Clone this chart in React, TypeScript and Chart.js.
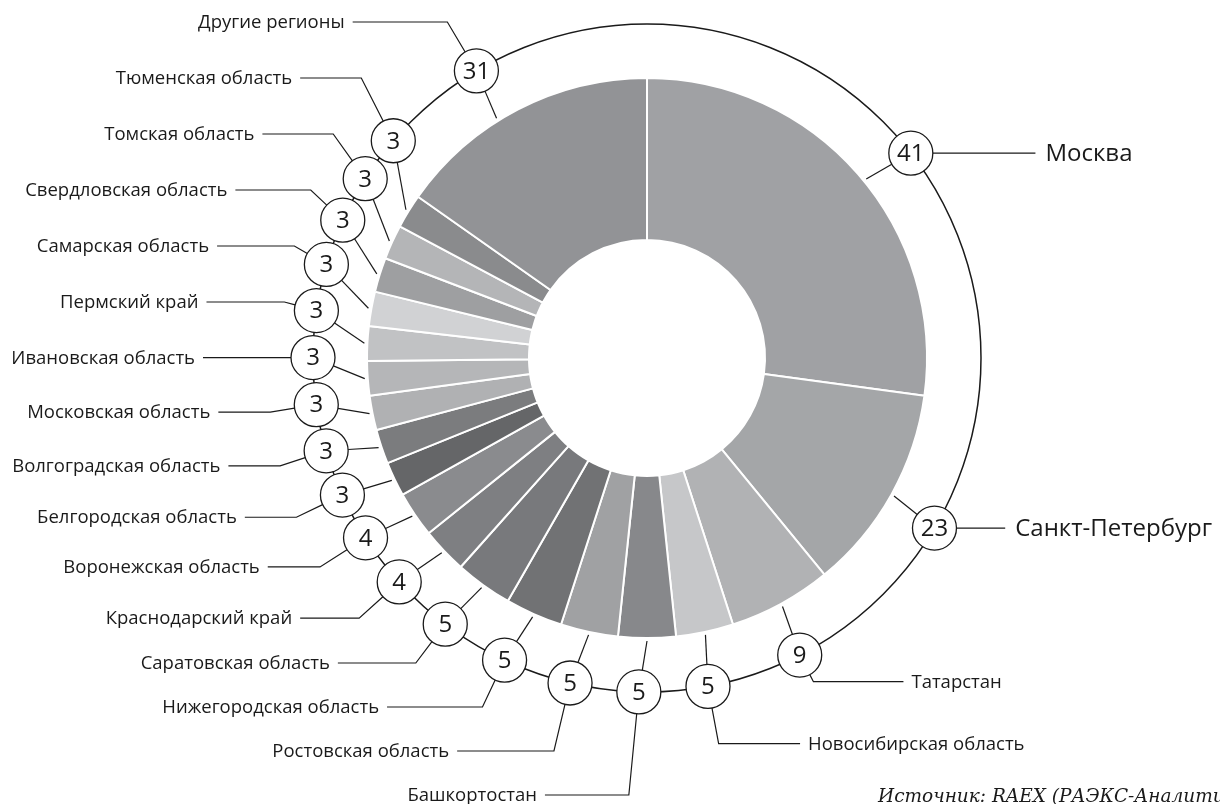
import React, { useEffect, useRef } from 'react';
import { Chart, registerables } from 'chart.js';

Chart.register(...registerables);

// ---------- data ----------
const REGIONS = [
  'Москва',
  'Санкт-Петербург',
  'Татарстан',
  'Новосибирская область',
  'Башкортостан',
  'Ростовская область',
  'Нижегородская область',
  'Саратовская область',
  'Краснодарский край',
  'Воронежская область',
  'Белгородская область',
  'Волгоградская область',
  'Московская область',
  'Ивановская область',
  'Пермский край',
  'Самарская область',
  'Свердловская область',
  'Томская область',
  'Тюменская область',
  'Другие регионы',
];

// numbers printed in the badges
const COUNTS = [41, 23, 9, 5, 5, 5, 5, 5, 4, 4, 3, 3, 3, 3, 3, 3, 3, 3, 3, 31];

// relative slice sizes as drawn in the picture
const SLICE_SHARES = [41, 18, 9, 5, 5, 5, 5, 5, 4, 4, 3, 3, 3, 3, 3, 3, 3, 3, 3, 23];

const SOURCE_NOTE = 'Источник: RAEX (РАЭКС-Аналитика)';

// ---------- styles ----------
const SLICE_COLORS = [
  '#a0a1a4', '#a4a6a8', '#b1b2b4', '#c6c7c9', '#87888b',
  '#a0a1a3', '#717274', '#78797c', '#7e7f82', '#8a8b8e',
  '#656668', '#7b7c7e', '#b0b1b3', '#b5b6b8', '#c1c2c4',
  '#d1d2d4', '#9e9fa1', '#b4b5b7', '#8a8b8d', '#929396',
];

const FONT = '"Open Sans", "DejaVu Sans", sans-serif';
const INK = '#1a1a1a';
const FEATURED = 2; // first two categories get large, horizontal labels
const CANVAS_W = 1220;
const CANVAS_H = 804;

const calloutPlugin = {
  id: 'callouts',
  afterDraw(chart: any) {
    const ctx: CanvasRenderingContext2D = chart.ctx;
    const arcs: any[] = chart.getDatasetMeta(0).data;
    if (!arcs.length) return;
    const p0 = arcs[0].getProps(['x', 'y', 'outerRadius'], true);
    const cx = p0.x;
    const cy = p0.y;
    const outer = p0.outerRadius;
    const W = chart.width;
    const H = chart.height;

    const ringR = outer + 54;
    const tipR = outer + 3;
    const badgeR = 22;
    const n = arcs.length;

    const toDeg = (r: number) => (r * 180) / Math.PI;
    const pt = (t: number, r: number) => {
      const a = (t * Math.PI) / 180;
      return { x: cx + r * Math.sin(a), y: cy - r * Math.cos(a) };
    };

    const mids: number[] = [];
    const spans: number[] = [];
    arcs.forEach((a) => {
      const p = a.getProps(['startAngle', 'endAngle'], true);
      const s = toDeg(p.startAngle) + 90;
      const e = toDeg(p.endAngle) + 90;
      mids.push((s + e) / 2);
      spans.push(e - s);
    });

    // badge angles: spread so the circles do not overlap
    const WIDE = 45;
    const GAP = 8.1;
    const NUDGE = 1.4;
    const WIDE_NUDGE = 3.3;
    const bAng: number[] = new Array(n);
    let prev = -Infinity;
    for (let i = 0; i < n; i++) {
      if (spans[i] > WIDE) {
        bAng[i] = mids[i] + (mids[i] < 180 ? WIDE_NUDGE : -WIDE_NUDGE);
        prev = bAng[i];
      } else {
        const a = Math.max(mids[i], prev + GAP);
        prev = a;
        bAng[i] = a + NUDGE;
      }
    }
    const tipAng = bAng.map((b, i) => (spans[i] > WIDE ? b - 1.4 : mids[i]));

    // label rows
    const labelY: number[] = new Array(n);
    const left: { i: number; y: number }[] = [];
    const right: { i: number; y: number }[] = [];
    for (let i = 0; i < n; i++) {
      const b = pt(bAng[i], ringR);
      if (i < FEATURED) {
        labelY[i] = b.y;
        continue;
      }
      const isLeft = bAng[i] >= 180;
      const Re = isLeft ? outer + 108 : outer + 84;
      const y = cy - Re * Math.cos((bAng[i] * Math.PI) / 180);
      (isLeft ? left : right).push({ i, y });
    }
    const spread = (items: { i: number; y: number }[], gapUp: number, gapDown: number) => {
      items.sort((a, b) => a.y - b.y);
      const m = items.length;
      if (!m) return;
      const minY = 22;
      const maxY = H - 9;
      let p = 0;
      let best = Infinity;
      items.forEach((it, k) => {
        const d = Math.abs(it.y - cy);
        if (d < best) {
          best = d;
          p = k;
        }
      });
      for (let k = p - 1; k >= 0; k--) items[k].y = Math.min(items[k].y, items[k + 1].y - gapUp);
      if (items[0].y < minY) {
        items[0].y = minY;
        for (let k = 1; k < p; k++) items[k].y = Math.max(items[k].y, items[k - 1].y + gapUp);
      }
      for (let k = p + 1; k < m; k++) items[k].y = Math.max(items[k].y, items[k - 1].y + gapDown);
      if (items[m - 1].y > maxY) {
        items[m - 1].y = maxY;
        for (let k = m - 2; k > p; k--) items[k].y = Math.min(items[k].y, items[k + 1].y - gapDown);
      }
      items.forEach((it) => (labelY[it.i] = it.y));
    };
    spread(left, 56, 44);
    spread(right, 62, 62);

    ctx.save();
    ctx.strokeStyle = INK;
    ctx.lineCap = 'butt';

    // outer ring
    ctx.lineWidth = 1.5;
    ctx.beginPath();
    ctx.arc(cx, cy, ringR, 0, Math.PI * 2);
    ctx.stroke();

    // inner leaders (badge -> slice)
    ctx.lineWidth = 1.2;
    for (let i = 0; i < n; i++) {
      const b = pt(bAng[i], ringR);
      const t = pt(tipAng[i], tipR);
      const dx = t.x - b.x;
      const dy = t.y - b.y;
      const len = Math.hypot(dx, dy);
      ctx.beginPath();
      ctx.moveTo(b.x + (dx / len) * badgeR, b.y + (dy / len) * badgeR);
      ctx.lineTo(t.x, t.y);
      ctx.stroke();
    }

    // outer leaders and labels
    for (let i = 0; i < n; i++) {
      const b = pt(bAng[i], ringR);
      const featured = i < FEATURED;
      const isLeft = !featured && bAng[i] >= 180;
      const side = isLeft ? -1 : 1;
      let ly = labelY[i];
      const fontSize = featured ? 24 : 18.5;
      ctx.font = `${fontSize}px ${FONT}`;
      const tw = ctx.measureText(REGIONS[i]).width;

      let startX: number;
      let startY: number;
      let elbowX: number;
      const dyB = ly - b.y;
      if (featured || Math.abs(dyB) < 4) {
        ly = b.y;
        startX = b.x + side * badgeR;
        startY = b.y;
        elbowX = startX;
      } else {
        const a = (bAng[i] * Math.PI) / 180;
        const tanPhi = Math.abs(Math.sin(a)) / Math.max(Math.abs(Math.cos(a)), 1e-6);
        const cap = ly < cy ? 32 : 46;
        const dx = Math.min(Math.max(Math.abs(dyB) * tanPhi, 10), cap);
        elbowX = b.x + side * dx;
        const vx = elbowX - b.x;
        const vy = ly - b.y;
        const len = Math.hypot(vx, vy);
        startX = b.x + (vx / len) * badgeR;
        startY = b.y + (vy / len) * badgeR;
      }

      const dyc = ly - cy;
      let textX: number;
      if (featured) {
        const Rt = outer + 168;
        textX = cx + Math.sqrt(Math.max(Rt * Rt - dyc * dyc, 0));
        textX = Math.min(textX, W - tw - 8);
      } else if (isLeft) {
        const Rt = ly < cy + 20 ? outer + 172 : outer + 160;
        textX = cx - Math.sqrt(Math.max(Rt * Rt - dyc * dyc, 0));
        const minLine = 44 + 0.7 * Math.max(0, Math.abs(dyc) - 380);
        textX = Math.min(textX, elbowX - minLine - 8);
        textX = Math.max(textX, tw + 4);
      } else {
        const Rt = outer + 138;
        textX = cx + Math.sqrt(Math.max(Rt * Rt - dyc * dyc, 0));
        textX = Math.max(textX, elbowX + 40);
      }
      const lineEnd = isLeft ? textX + 8 : textX - (featured ? 10 : 8);

      ctx.lineWidth = 1.2;
      ctx.beginPath();
      ctx.moveTo(startX, startY);
      ctx.lineTo(elbowX, ly);
      ctx.lineTo(lineEnd, ly);
      ctx.stroke();

      ctx.fillStyle = INK;
      ctx.textBaseline = 'middle';
      ctx.textAlign = isLeft ? 'right' : 'left';
      ctx.fillText(REGIONS[i], textX, ly + 1);
    }

    // badges
    for (let i = 0; i < n; i++) {
      const b = pt(bAng[i], ringR);
      ctx.beginPath();
      ctx.arc(b.x, b.y, badgeR, 0, Math.PI * 2);
      ctx.fillStyle = '#ffffff';
      ctx.fill();
      ctx.lineWidth = 1.3;
      ctx.strokeStyle = INK;
      ctx.stroke();
      ctx.fillStyle = INK;
      ctx.font = `24px ${FONT}`;
      ctx.textAlign = 'center';
      ctx.textBaseline = 'middle';
      ctx.fillText(String(COUNTS[i]), b.x, b.y + 1);
    }

    // source note
    ctx.font = `italic 18.5px "DejaVu Serif", "Liberation Serif", serif`;
    ctx.fillStyle = INK;
    ctx.textAlign = 'left';
    ctx.textBaseline = 'alphabetic';
    ctx.fillText(SOURCE_NOTE, 878, H - 2);

    ctx.restore();
  },
};

export default function App() {
  const canvasRef = useRef<HTMLCanvasElement | null>(null);

  useEffect(() => {
    const canvas = canvasRef.current;
    if (!canvas) return;
    const chart = new Chart(canvas, {
      type: 'doughnut',
      data: {
        labels: REGIONS,
        datasets: [
          {
            data: SLICE_SHARES,
            backgroundColor: SLICE_COLORS,
            borderColor: '#ffffff',
            borderWidth: 2,
            hoverOffset: 0,
          },
        ],
      },
      options: {
        responsive: false,
        animation: false,
        cutout: 118,
        rotation: 0,
        layout: { padding: { left: 366, right: 292, top: 77, bottom: 165 } },
        plugins: {
          legend: { display: false },
          tooltip: { enabled: false },
        },
        events: [],
      },
      plugins: [calloutPlugin],
    });
    if ((document as any).fonts && (document as any).fonts.load) {
      Promise.all([
        (document as any).fonts.load(`18px "Open Sans"`),
        (document as any).fonts.load(`italic 18px "DejaVu Serif"`),
      ])
        .then(() => chart.draw())
        .catch(() => {});
    }
    return () => chart.destroy();
  }, []);

  return (
    <div
      style={{
        position: 'fixed',
        left: 0,
        top: 0,
        width: CANVAS_W,
        height: CANVAS_H,
        background: '#ffffff',
        overflow: 'hidden',
      }}
    >
      <canvas
        ref={canvasRef}
        width={CANVAS_W}
        height={CANVAS_H}
        style={{ width: CANVAS_W, height: CANVAS_H, display: 'block' }}
      />
    </div>
  );
}
